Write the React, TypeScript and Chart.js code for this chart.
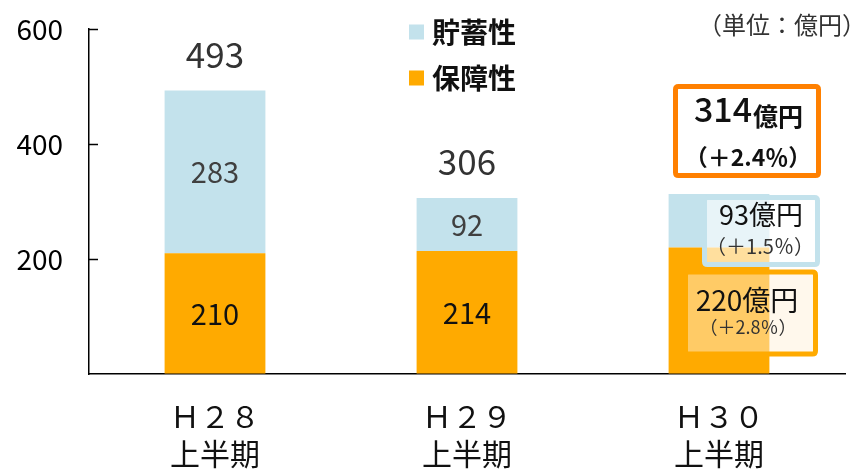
import React, { useEffect, useRef } from "react";
import { Chart, registerables } from "chart.js";

Chart.register(...registerables);

const categories = [
  ["Ｈ２８", "上半期"],
  ["Ｈ２９", "上半期"],
  ["Ｈ３０", "上半期"],
];
const seriesNames = ["保障性", "貯蓄性"];
const hoshoValues = [210, 214, 220];
const chochikuValues = [283, 92, 93];
const totalValues = [493, 306, 314];
const yTickValues = [0, 200, 400, 600];
const unitLabel = "（単位：億円）";
const h30TotalText = { amount: "314", unit: "億円", change: "（＋2.4％）" };
const h30ChochikuText = { amount: "93億円", change: "（＋1.5％）" };
const h30HoshoText = { amount: "220億円", change: "（＋2.8％）" };

const BLUE = "#C3E2EC";
const ORANGE = "#FFAA00";
const DARK_ORANGE = "#FF8000";
const FONT = "'Noto Sans CJK JP', 'Noto Sans', sans-serif";

function roundRect(ctx: CanvasRenderingContext2D, x0: number, y0: number, x1: number, y1: number, lw: number, stroke: string, fill: string) {
  const h = lw / 2;
  ctx.save();
  ctx.beginPath();
  const r = 3;
  const x = x0 + h, y = y0 + h, w = x1 - x0 - lw, hh = y1 - y0 - lw;
  ctx.moveTo(x + r, y);
  ctx.lineTo(x + w - r, y);
  ctx.quadraticCurveTo(x + w, y, x + w, y + r);
  ctx.lineTo(x + w, y + hh - r);
  ctx.quadraticCurveTo(x + w, y + hh, x + w - r, y + hh);
  ctx.lineTo(x + r, y + hh);
  ctx.quadraticCurveTo(x, y + hh, x, y + hh - r);
  ctx.lineTo(x, y + r);
  ctx.quadraticCurveTo(x, y, x + r, y);
  ctx.closePath();
  ctx.fillStyle = fill;
  ctx.fill();
  ctx.lineWidth = lw;
  ctx.strokeStyle = stroke;
  ctx.stroke();
  ctx.restore();
}

function text(ctx: CanvasRenderingContext2D, s: string, x: number, y: number, font: string, color: string, align: CanvasTextAlign = "center") {
  ctx.save();
  ctx.font = font;
  ctx.fillStyle = color;
  ctx.textAlign = align;
  ctx.textBaseline = "middle";
  ctx.fillText(s, x, y);
  ctx.restore();
}

const labelPlugin = {
  id: "customLabels",
  afterDatasetsDraw(chart: any) {
    const ctx: CanvasRenderingContext2D = chart.ctx;
    const m0 = chart.getDatasetMeta(0);
    const m1 = chart.getDatasetMeta(1);
    const area = chart.chartArea;
    const yScale = chart.scales.y;

    // inward tick marks
    ctx.save();
    ctx.strokeStyle = "#000";
    ctx.lineWidth = 1.5;
    yTickValues.forEach((v) => {
      if (v === 0) return;
      const py = Math.round(yScale.getPixelForValue(v)) + 0.5;
      ctx.beginPath();
      ctx.moveTo(area.left, py);
      ctx.lineTo(area.left + 9, py);
      ctx.stroke();
    });
    ctx.restore();

    for (let i = 0; i < 2; i++) {
      const b0 = m0.data[i].getProps(["x", "y", "base"], true);
      const b1 = m1.data[i].getProps(["x", "y", "base"], true);
      text(ctx, String(hoshoValues[i]), b0.x, (b0.y + b0.base) / 2 + 1, `29px ${FONT}`, "#111");
      text(ctx, String(chochikuValues[i]), b1.x, (b1.y + b1.base) / 2, `29px ${FONT}`, "#404040");
      text(ctx, String(totalValues[i]), b1.x, b1.y - 36, `35px ${FONT}`, "#333");
    }

    // H30 annotations
    const c0 = m0.data[2].getProps(["x", "y", "base"], true);
    const c1 = m1.data[2].getProps(["x", "y", "base"], true);
    const cx = c1.x;
    const top = c1.y;

    // total box
    roundRect(ctx, cx - 46, top - 110, cx + 102, top - 16, 5, DARK_ORANGE, "#FFFFFF");
    ctx.save();
    ctx.textBaseline = "alphabetic";
    ctx.font = `500 34px ${FONT}`;
    const w1 = ctx.measureText(h30TotalText.amount).width;
    ctx.font = `bold 25px ${FONT}`;
    const w2 = ctx.measureText(h30TotalText.unit).width;
    const sx = cx + 29 - (w1 + w2) / 2;
    ctx.fillStyle = "#111";
    ctx.textAlign = "left";
    ctx.font = `500 34px ${FONT}`;
    ctx.fillText(h30TotalText.amount, sx, top - 72);
    ctx.font = `bold 25px ${FONT}`;
    ctx.fillText(h30TotalText.unit, sx + w1 + 1, top - 68);
    ctx.restore();
    text(ctx, h30TotalText.change, cx + 29, top - 37, `bold 23px ${FONT}`, "#111");

    // chochiku box
    roundRect(ctx, cx - 17, top + 1, cx + 101, top + 73, 5, BLUE, "rgba(255,255,255,0.62)");
    text(ctx, h30ChochikuText.amount, cx + 42, top + 21, `27px ${FONT}`, "#111");
    text(ctx, h30ChochikuText.change, cx + 41, top + 52, `20px ${FONT}`, "#333");

    // hosho box
    const oy = c0.y;
    roundRect(ctx, cx - 36, oy + 22, cx + 99, oy + 109, 5, ORANGE, "rgba(255,240,215,0.475)");
    text(ctx, h30HoshoText.amount, cx + 28, oy + 53, `28px ${FONT}`, "#111");
    text(ctx, h30HoshoText.change, cx + 29, oy + 80, `18px ${FONT}`, "#333");

    // legend
    const legendColors = [BLUE, ORANGE];
    const legendNames = [seriesNames[1], seriesNames[0]];
    legendNames.forEach((n, k) => {
      const ly = 32 + k * 46;
      ctx.fillStyle = legendColors[k];
      ctx.fillRect(409, ly - 7.5, 15, 15);
      text(ctx, n, 432, ly, `bold 28px ${FONT}`, "#111", "left");
    });

    // unit
    text(ctx, unitLabel, 866, 25, `24px ${FONT}`, "#333", "right");
  },
};

export default function App() {
  const ref = useRef<HTMLCanvasElement>(null);
  useEffect(() => {
    if (!ref.current) return;
    Chart.defaults.font.family = FONT;
    const chart = new Chart(ref.current, {
      type: "bar",
      data: {
        labels: categories as any,
        datasets: [
          { label: seriesNames[0], data: hoshoValues, backgroundColor: ORANGE, barPercentage: 0.4, categoryPercentage: 1 },
          { label: seriesNames[1], data: chochikuValues, backgroundColor: BLUE, barPercentage: 0.4, categoryPercentage: 1 },
        ],
      },
      options: {
        responsive: false,
        animation: false,
        layout: { padding: { top: 29, right: 15, left: 0, bottom: 0 } },
        plugins: { legend: { display: false }, tooltip: { enabled: false } },
        scales: {
          x: {
            stacked: true,
            grid: { drawOnChartArea: false, drawTicks: false },
            border: { display: true, color: "#000", width: 1.5 },
            ticks: { color: "#111", font: { size: 30, lineHeight: 1.23 }, padding: 24, maxRotation: 0 },
            afterFit: (s: any) => { s.height = 95; },
          },
          y: {
            stacked: true,
            min: 0,
            max: 600,
            grid: { drawOnChartArea: false, drawTicks: true, tickLength: 26, tickColor: "rgba(0,0,0,0)" },
            border: { display: true, color: "#000", width: 1.5 },
            ticks: {
              stepSize: 200,
              color: "#000",
              font: { size: 28 },
              padding: 0,
              callback: (v: any) => (v === 0 ? "" : String(v)),
            },
            afterFit: (s: any) => { s.width = 89; },
          },
        },
      },
      plugins: [labelPlugin],
    });
    return () => chart.destroy();
  }, []);
  return (
    <div style={{ position: "absolute", left: 0, top: 0, width: 860, height: 469, background: "#fff" }}>
      <canvas ref={ref} width={860} height={469} style={{ display: "block" }} />
    </div>
  );
}
